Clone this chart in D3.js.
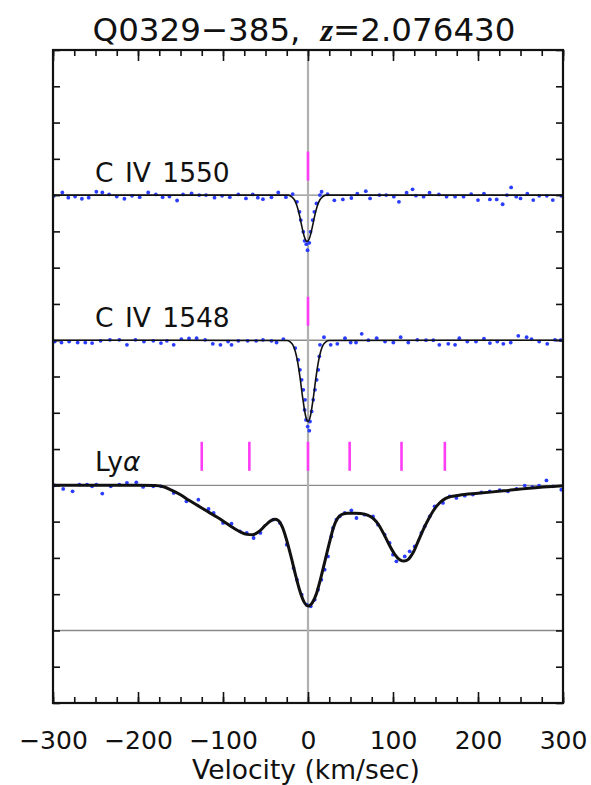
<!DOCTYPE html>
<html>
<head>
<meta charset="utf-8">
<script src="https://cdn.jsdelivr.net/npm/d3@7"></script>
<style>
  html, body { margin: 0; padding: 0; background: #fff; }
  svg { display: block; }
  text { font-family: "DejaVu Sans", "Liberation Sans", Arial, sans-serif; fill: #111; }
</style>
</head>
<body>
<svg id="chart" width="591" height="785"></svg>
<script>
// Velocity stack of Q0329-385 absorber at z = 2.076430.
// Each panel is normalised flux, shifted upward by its offset.

const titleText = "Q0329\u2212385,";
const redshiftText = "=2.076430";
const xLabel = "Velocity (km/sec)";
const xMajorTicks = [-300, -200, -100, 0, 100, 200, 300];
const yDomain = [-0.5, 4.0];
const xDomain = [-300, 300];

const panelNames = ["C IV 1550", "C IV 1548", "Ly\u03b1"];
const panelOffsets = [2, 1, 0];
const referenceLevels = [0, 1, 2, 3];

// component markers (km/s)
const civ1550Marks = [0];
const civ1548Marks = [0];
const lyaMarks = [-125, -69, 0, 49, 110, 161];

// observed pixels [velocity, normalised flux]
const civ1550Points = [
  [-299, 0.995], [-289, 1.018], [-282, 0.982], [-274, 0.990], [-266, 0.975], [-258, 0.982],
  [-249, 1.023], [-242, 1.018], [-234, 1.005], [-225, 0.990], [-216, 0.975], [-207, 0.995],
  [-198, 0.986], [-188, 1.018], [-179, 1.005], [-171, 0.986], [-163, 0.990], [-154, 0.963],
  [-147, 1.005], [-137, 1.011], [-128, 1.000], [-120, 1.000], [-110, 0.982], [-101, 0.995],
  [-92, 0.986], [-82, 1.005], [-73, 0.977], [-65, 1.005], [-59, 0.982], [-53, 0.972],
  [-43, 0.985], [-35, 1.018], [-26, 0.986], [-18, 1.007], [-13, 0.954], [-10, 0.885],
  [-8.5, 0.828], [-5.5, 0.747], [-4, 0.685], [-2, 0.662], [-0.5, 0.620], [1.5, 0.671],
  [3, 0.747], [5.5, 0.828], [7.5, 0.885], [10, 0.943], [14, 1.000], [16, 1.023],
  [23, 1.006], [31, 0.964], [41, 0.970], [51, 0.980], [58, 1.010], [68, 1.027],
  [73, 0.977], [84, 1.000], [92, 1.000], [101, 0.989], [107, 0.954], [116, 1.017],
  [123, 1.040], [127, 0.996], [136, 0.989], [143, 1.017], [154, 1.005], [163, 0.989],
  [173, 0.989], [183, 0.989], [192, 1.007], [200, 0.966], [207, 1.010], [214, 0.970],
  [222, 0.970], [229, 0.937], [234, 1.000], [239, 1.053], [245, 0.989], [250, 0.977],
  [258, 1.010], [265, 0.966], [272, 0.995], [281, 0.995], [288, 0.966], [298, 0.995]
];

const civ1548Points = [
  [-298, 0.991], [-290, 0.984], [-281, 0.991], [-271, 0.984], [-262, 0.984], [-254, 0.980],
  [-244, 0.996], [-233, 1.003], [-222, 1.003], [-213, 0.968], [-203, 1.003], [-193, 0.991],
  [-182, 0.996], [-173, 0.980], [-166, 0.996], [-158, 0.968], [-149, 1.008], [-140, 1.012],
  [-131, 1.014], [-121, 1.003], [-112, 0.975], [-103, 0.968], [-94, 0.991], [-90, 0.968],
  [-82, 0.996], [-71, 0.996], [-61, 0.996], [-53, 1.003], [-43, 0.996], [-37, 0.984],
  [-29, 1.008], [-15, 0.946], [-11.5, 0.865], [-9.5, 0.796], [-7.5, 0.727], [-5.5, 0.658],
  [-3.5, 0.589], [-4, 0.520], [-2.3, 0.451], [-0.4, 0.405], [1.5, 0.377], [2.3, 0.440],
  [4.3, 0.509], [6.2, 0.589], [8.2, 0.658], [10.2, 0.727], [12.1, 0.796], [13.3, 0.888],
  [14.1, 0.968], [18.8, 1.021], [26.7, 0.968], [34.5, 0.975], [43.5, 1.014], [50.2, 0.984],
  [56.5, 0.984], [63.2, 1.044], [71, 1.000], [80.8, 1.014], [90.6, 0.991], [100.4, 0.984],
  [109, 1.021], [118, 0.984], [128.6, 1.003], [138.8, 1.000], [147.4, 1.000], [154.5, 0.968],
  [165, 0.975], [173, 0.968], [178, 1.014], [187.4, 0.991], [197.6, 0.991], [207, 1.010],
  [214, 0.980], [222.7, 0.991], [229.8, 0.975], [238.5, 0.984], [247.4, 1.030], [257.2, 1.021],
  [263, 1.008], [272, 0.991], [281.5, 0.975], [290.6, 1.003], [297.3, 1.000]
];

const lyaPoints = [
  [-298, 1.000], [-288, 0.975], [-277, 0.959], [-269, 1.005], [-260, 1.005], [-254, 0.993],
  [-249, 1.005], [-242, 0.943], [-232, 0.993], [-222, 1.005], [-213, 1.017], [-202, 1.021],
  [-194, 0.989], [-182, 0.993], [-173, 0.993], [-158, 0.948], [-143, 0.890], [-129, 0.901],
  [-117, 0.837], [-111, 0.810], [-100, 0.741], [-90, 0.736], [-80, 0.683], [-72, 0.672],
  [-64, 0.637], [-56, 0.672], [-41, 0.763], [-33, 0.741], [-25, 0.591], [-17, 0.430],
  [-13, 0.350], [-7.4, 0.246], [-1.5, 0.177], [3.2, 0.166], [7.9, 0.212], [11.8, 0.281],
  [15.7, 0.350], [19.6, 0.419], [23.5, 0.510], [27.5, 0.648], [29.4, 0.706], [33.4, 0.763],
  [37.3, 0.786], [43.2, 0.810], [51, 0.828], [57, 0.775], [66.7, 0.798], [76.5, 0.786],
  [82.4, 0.729], [90.2, 0.660], [96, 0.603], [100, 0.522], [104, 0.476], [113.8, 0.510],
  [119.6, 0.545], [125.5, 0.579], [133.4, 0.672], [137.3, 0.717], [143.2, 0.786], [149, 0.855],
  [158.8, 0.879], [166.7, 0.924], [174.6, 0.913], [184.4, 0.929], [194, 0.936], [204, 0.952],
  [213.8, 0.959], [225.5, 0.966], [235.3, 0.959], [245.2, 0.975], [255, 0.998], [264, 0.989],
  [271.8, 0.998], [280.5, 1.034], [288.2, 0.993], [298, 0.970]
];

// fitted profiles [velocity, normalised flux]
const civ1550Model = [
  [-300, 1.000], [-23, 1.000], [-19, 0.988], [-16, 0.968], [-13, 0.926], [-10, 0.860],
  [-7, 0.778], [-4, 0.708], [-1, 0.680], [2, 0.708], [5, 0.778], [8, 0.860],
  [11, 0.926], [14, 0.968], [17, 0.988], [21, 1.000], [300, 1.000]
];

const civ1548Model = [
  [-300, 1.000], [-25, 0.998], [-21, 0.989], [-18, 0.969], [-15, 0.924], [-12, 0.844],
  [-9, 0.727], [-6, 0.593], [-3, 0.483], [0, 0.440], [3, 0.483], [6, 0.593],
  [9, 0.727], [12, 0.844], [15, 0.924], [18, 0.969], [21, 0.989], [25, 0.998], [300, 1.000]
];

const lyaModel = [
  [-300, 1.000], [-250, 1.000], [-200, 1.000], [-180, 0.998], [-170, 0.990], [-160, 0.965],
  [-150, 0.935], [-140, 0.897], [-130, 0.862], [-120, 0.826], [-110, 0.791], [-100, 0.755],
  [-90, 0.715], [-80, 0.680], [-72, 0.662], [-65, 0.660], [-58, 0.680], [-50, 0.725],
  [-44, 0.755], [-39, 0.766], [-35, 0.758], [-30, 0.710], [-25, 0.620], [-20, 0.510],
  [-15, 0.390], [-10, 0.280], [-5, 0.200], [0, 0.168], [5, 0.190], [10, 0.255],
  [15, 0.360], [20, 0.480], [25, 0.600], [30, 0.710], [35, 0.775], [40, 0.800],
  [47, 0.808], [55, 0.808], [62, 0.806], [70, 0.795], [77, 0.770], [84, 0.720],
  [90, 0.655], [96, 0.585], [102, 0.525], [108, 0.488], [113, 0.478], [118, 0.490],
  [124, 0.540], [130, 0.620], [136, 0.700], [142, 0.770], [148, 0.830], [155, 0.880],
  [162, 0.910], [170, 0.925], [178, 0.932], [200, 0.945], [230, 0.962], [260, 0.980],
  [300, 0.997]
];

const panels = [
  { name: panelNames[0], offset: panelOffsets[0], points: civ1550Points, model: civ1550Model, marks: civ1550Marks, modelWidth: 1.6 },
  { name: panelNames[1], offset: panelOffsets[1], points: civ1548Points, model: civ1548Model, marks: civ1548Marks, modelWidth: 1.6 },
  { name: panelNames[2], offset: panelOffsets[2], points: lyaPoints, model: lyaModel, marks: lyaMarks, modelWidth: 3 }
];

// ---- layout ----
const frame = { left: 53, right: 563, top: 50, bottom: 703 };
const svg = d3.select("#chart");

const x = d3.scaleLinear().domain(xDomain).range([frame.left, frame.right]);
const y = d3.scaleLinear().domain(yDomain).range([frame.bottom, frame.top]);

const plot = svg.append("g");

// reference levels (zero / continuum of stacked panels)
plot.selectAll("line.level")
  .data(referenceLevels)
  .join("line")
  .attr("class", "level")
  .attr("x1", frame.left).attr("x2", frame.right)
  .attr("y1", d => y(d)).attr("y2", d => y(d))
  .attr("stroke", "#8a8a8a").attr("stroke-width", 1.4);

// zero-velocity line
plot.append("line")
  .attr("x1", x(0)).attr("x2", x(0))
  .attr("y1", frame.top).attr("y2", frame.bottom)
  .attr("stroke", "#b0b0b0").attr("stroke-width", 2.2);

const lineGen = d3.line().curve(d3.curveMonotoneX);

panels.forEach(p => {
  const g = plot.append("g");

  // component markers
  g.selectAll("line.mark")
    .data(p.marks)
    .join("line")
    .attr("class", "mark")
    .attr("x1", d => x(d)).attr("x2", d => x(d))
    .attr("y1", y(p.offset + 1.1)).attr("y2", y(p.offset + 1.3))
    .attr("stroke", "#ff3df5").attr("stroke-width", 2.6);

  // pixels
  g.selectAll("circle")
    .data(p.points)
    .join("circle")
    .attr("cx", d => x(d[0]))
    .attr("cy", d => y(d[1] + p.offset))
    .attr("r", 1.9)
    .attr("fill", "#2a3cff");

  // fitted profile
  g.append("path")
    .datum(p.model.map(d => [x(d[0]), y(d[1] + p.offset)]))
    .attr("d", lineGen)
    .attr("fill", "none")
    .attr("stroke", "#111")
    .attr("stroke-width", p.modelWidth)
    .attr("stroke-linejoin", "round");
});

// panel labels
const labelY = [181.5, 326.5, 471];
panels.forEach((p, i) => {
  const t = svg.append("text")
    .attr("x", 95).attr("y", labelY[i])
    .attr("font-size", 26.5)
    .attr("word-spacing", 3);
  if (i < 2) {
    t.text(p.name);
  } else {
    t.append("tspan").text("Ly");
    t.append("tspan").attr("font-style", "italic").text("\u03b1");
  }
});

// ---- axes ----
const xMinorTicks = d3.range(xDomain[0], xDomain[1] + 1, 25);
const yTicks = d3.range(yDomain[0], yDomain[1] + 0.001, 0.25);
const fmt = d => (d < 0 ? "\u2212" + Math.abs(d) : String(d));

function styleAxis(g) {
  g.select(".domain").remove();
  g.selectAll(".tick line").attr("stroke", "#111").attr("stroke-width", 1.6);
}

svg.append("g").attr("transform", `translate(0,${frame.bottom})`)
  .call(d3.axisBottom(x).tickValues(xMinorTicks).tickSize(-6).tickFormat(""))
  .call(styleAxis);
svg.append("g").attr("transform", `translate(0,${frame.bottom})`)
  .call(d3.axisBottom(x).tickValues(xMajorTicks).tickSize(-11).tickPadding(28).tickFormat(fmt))
  .call(styleAxis)
  .call(g => g.selectAll("text")
    .attr("font-size", 25)
    .attr("font-family", "DejaVu Sans, Liberation Sans, Arial, sans-serif")
    .attr("fill", "#111"));
svg.append("g").attr("transform", `translate(0,${frame.top})`)
  .call(d3.axisTop(x).tickValues(xMinorTicks).tickSize(-6).tickFormat(""))
  .call(styleAxis);
svg.append("g").attr("transform", `translate(0,${frame.top})`)
  .call(d3.axisTop(x).tickValues(xMajorTicks).tickSize(-11).tickFormat(""))
  .call(styleAxis);
svg.append("g").attr("transform", `translate(${frame.left},0)`)
  .call(d3.axisLeft(y).tickValues(yTicks).tickSize(-7).tickFormat(""))
  .call(styleAxis);
svg.append("g").attr("transform", `translate(${frame.right},0)`)
  .call(d3.axisRight(y).tickValues(yTicks).tickSize(-7).tickFormat(""))
  .call(styleAxis);

// frame
svg.append("rect")
  .attr("x", frame.left).attr("y", frame.top)
  .attr("width", frame.right - frame.left).attr("height", frame.bottom - frame.top)
  .attr("fill", "none").attr("stroke", "#111").attr("stroke-width", 2.2);

// axis title
svg.append("text")
  .attr("x", x(0) - 2).attr("y", 779)
  .attr("text-anchor", "middle")
  .attr("font-size", 26.5)
  .text(xLabel);

// title
const title = svg.append("text")
  .attr("x", 304).attr("y", 41)
  .attr("text-anchor", "middle")
  .attr("font-size", 32.5);
title.append("tspan").text(titleText);
title.append("tspan")
  .attr("dx", 20)
  .attr("font-family", "Liberation Serif, serif")
  .attr("font-style", "italic").attr("font-weight", "bold")
  .text("z");
title.append("tspan").text(redshiftText);
</script>
</body>
</html>
